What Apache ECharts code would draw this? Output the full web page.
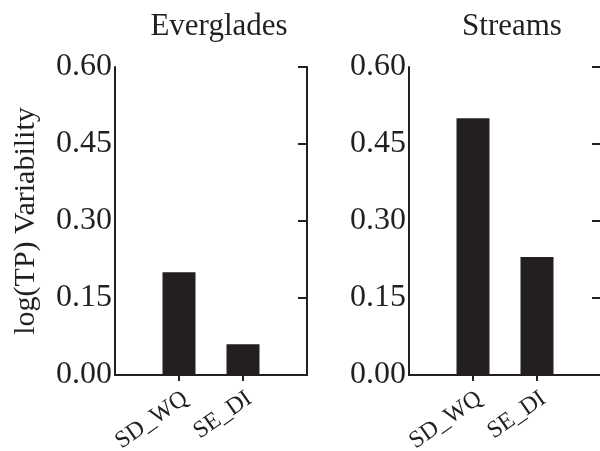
<!DOCTYPE html>
<html>
<head>
<meta charset="utf-8">
<script src="https://cdn.jsdelivr.net/npm/echarts@6/dist/echarts.min.js"></script>
<style>
  html, body { margin: 0; padding: 0; background: #fff; }
  #chart { width: 600px; height: 451px; }
</style>
</head>
<body>
<div id="chart"></div>
<script>
// data
var categories = ['', 'SD_WQ', 'SE_DI', ''];
var evergladesValues = ['-', 0.20, 0.06, '-'];
var streamsValues = ['-', 0.50, 0.23, '-'];
var panelTitles = ['Everglades', 'Streams'];
var yTickLabels = ['0.00', '0.15', '0.30', '0.45', '0.60'];

var FONT = 'Liberation Serif';
var INK = '#231f20';

var chart = echarts.init(document.getElementById('chart'));

var grids = [
	{ left: 115, top: 67, width: 192, height: 308, outerBoundsMode: 'none' },
	{ left: 409, top: 67, width: 192, height: 308, outerBoundsMode: 'none' }
];

function bottomAxis(g) {
	return {
		type: 'category', gridIndex: g, position: 'bottom',
		boundaryGap: false, data: categories,
		axisLine: { lineStyle: { color: INK, width: 2 } },
		axisTick: { show: false },
		axisLabel: {
			interval: 0, rotate: 35, margin: 26,
			padding: [0, -8, 0, 0],
			fontFamily: FONT, fontSize: 24, color: INK
		},
		splitLine: { show: false }
	};
}
function topAxis(g) {
	return {
		type: 'category', gridIndex: g, position: 'top',
		boundaryGap: false, data: categories,
		axisLine: { lineStyle: { color: INK, width: 2 } },
		axisTick: {
			show: true, inside: true, length: 6,
			interval: function (i) { return i === 1 || i === 2; },
			lineStyle: { color: INK, width: 2 }
		},
		axisLabel: { show: false },
		splitLine: { show: false }
	};
}
function leftAxis(g) {
	var ax = {
		type: 'value', gridIndex: g, position: 'left',
		min: 0, max: 0.6, interval: 0.15,
		axisLine: { show: true, lineStyle: { color: INK, width: 2 } },
		axisTick: { show: false },
		axisLabel: {
			margin: 3, fontFamily: FONT, fontSize: 32, color: INK,
			padding: [0, 0, 6, 0],
			formatter: function (v) { return yTickLabels[Math.round(v / 0.15)]; }
		},
		splitLine: { show: false }
	};
	if (g === 0) {
		ax.name = 'log(TP) Variability';
		ax.nameLocation = 'middle';
		ax.nameRotate = 90;
		ax.nameGap = 74;
		ax.nameTextStyle = { fontFamily: FONT, fontSize: 30, color: INK };
	}
	return ax;
}
function rightAxis(g) {
	return {
		type: 'value', gridIndex: g, position: 'right',
		min: 0, max: 0.6, interval: 0.15,
		axisLine: { show: true, lineStyle: { color: INK, width: 2 } },
		axisTick: { show: true, inside: true, length: 9, lineStyle: { color: INK, width: 2 } },
		axisLabel: { show: false },
		splitLine: { show: false }
	};
}

chart.setOption({
	backgroundColor: '#fff',
	animation: false,
	title: [
		{
			text: panelTitles[0], left: 214, top: 6, textAlign: 'center',
			textStyle: { fontFamily: FONT, fontSize: 31, fontWeight: 'normal', color: INK }
		},
		{
			text: panelTitles[1], left: 507, top: 6, textAlign: 'center',
			textStyle: { fontFamily: FONT, fontSize: 31, fontWeight: 'normal', color: INK }
		}
	],
	grid: grids,
	xAxis: [bottomAxis(0), topAxis(0), bottomAxis(1), topAxis(1)],
	yAxis: [leftAxis(0), rightAxis(0), leftAxis(1), rightAxis(1)],
	series: [
		{
			type: 'bar', xAxisIndex: 0, yAxisIndex: 0,
			data: evergladesValues, barWidth: 33,
			itemStyle: { color: INK }
		},
		{
			type: 'bar', xAxisIndex: 2, yAxisIndex: 2,
			data: streamsValues, barWidth: 33,
			itemStyle: { color: INK }
		}
	]
});
</script>
</body>
</html>
